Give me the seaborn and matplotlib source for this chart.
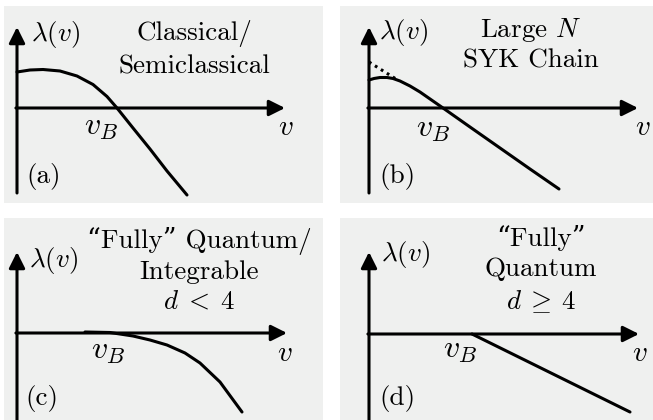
import numpy as np
import matplotlib
matplotlib.use("Agg")
import matplotlib.pyplot as plt
import seaborn as sns

# curve samples (v, lambda(v)); origin = axis crossing
v_a = [0, 0.13, 0.26, 0.43, 0.60, 0.76, 0.90, 1.0, 1.16, 1.33, 1.50, 1.70]
lam_a = [0.36, 0.38, 0.385, 0.37, 0.32, 0.235, 0.115, 0.0, -0.20, -0.41, -0.63, -0.87]

v_b = [0, 0.05, 0.11, 0.18, 0.24, 0.31, 0.41, 0.51, 0.74, 1.01, 1.31, 1.61, 1.90]
lam_b = [0.28, 0.295, 0.305, 0.305, 0.295, 0.27, 0.22, 0.16, 0.0, -0.19, -0.40, -0.61, -0.81]
v_b_dot = [0, 0.27]
lam_b_dot = [0.46, 0.29]

v_c = [0.68, 0.93, 1.16, 1.33, 1.50, 1.68, 1.83, 2.03, 2.25]
lam_c = [0.01, 0.005, -0.03, -0.07, -0.12, -0.20, -0.30, -0.49, -0.79]

v_d = [1.03, 2.61]
lam_d = [0.0, -0.78]

titles = ["Classical/\nSemiclassical", "Large $N$\nSYK Chain",
          "\u201cFully\u201d Quantum/\nIntegrable\n$d\\;<\\;4$",
          "\u201cFully\u201d\nQuantum\n$d\\:\\geq\\:4$"]
tags = ["(a)", "(b)", "(c)", "(d)"]

W, H = 653, 420
FS = 19.5
sns.set_theme(style="white")
plt.rcParams["font.family"] = ["cmr10", "DejaVu Serif"]
plt.rcParams["mathtext.fontset"] = "cm"
plt.rcParams["axes.formatter.use_mathtext"] = True

fig = plt.figure(figsize=(W / 100, H / 100), dpi=100)
fig.patch.set_facecolor("white")

# panel boxes in pixels: left, top, right, bottom, origin x, origin y
panels = [
    (4, 6, 323, 203, 17, 108),
    (340, 6, 653, 203, 369, 108),
    (4, 218, 323, 420, 17, 333),
    (340, 218, 653, 420, 369, 334),
]
vtip = [0.81, 0.81, 0.81, 0.82]
vbot = [-0.85, -0.85, -0.95, -0.95]
htip = [2.68, 2.69, 2.70, 2.70]

axes = []
for i, (l, t, r, b, ox, oy) in enumerate(panels):
    ax = fig.add_axes([l / W, 1 - b / H, (r - l) / W, (b - t) / H])
    ax.set_facecolor("#eff0ef")
    ax.set_xlim((l - ox) / 100, (r - ox) / 100)
    ax.set_ylim((oy - b) / 100, (oy - t) / 100)
    ax.set_xticks([])
    ax.set_yticks([])
    for s in ax.spines.values():
        s.set_visible(False)
    arrow = dict(arrowstyle="-|>", lw=2.2, color="black", mutation_scale=24,
                 shrinkA=0, shrinkB=0)
    ax.annotate("", xy=(0, vtip[i]), xytext=(0, vbot[i]), arrowprops=arrow,
                annotation_clip=False)
    ax.annotate("", xy=(htip[i], 0), xytext=(-0.011, 0), arrowprops=arrow,
                annotation_clip=False)
    axes.append(ax)

sns.lineplot(x=v_a, y=lam_a, ax=axes[0], color="black", lw=2.2, sort=False, estimator=None)
sns.lineplot(x=v_b, y=lam_b, ax=axes[1], color="black", lw=2.2, sort=False, estimator=None)
axes[1].plot(v_b_dot, lam_b_dot, color="black", lw=2.2, ls=(0, (0.9, 1.4)))
sns.lineplot(x=v_c, y=lam_c, ax=axes[2], color="black", lw=2.2, sort=False, estimator=None)
sns.lineplot(x=v_d, y=lam_d, ax=axes[3], color="black", lw=2.2, sort=False, estimator=None)


def px(x, y, s, fs=FS, **kw):
    fig.text(x / W, 1 - y / H, s, fontsize=fs, color="black", **kw)


# lambda(v) labels
for (x, y) in [(31, 35), (379, 33), (29, 260), (381, 255)]:
    px(x, y, r"$\lambda(v)$", ha="left", va="center")
# v_B labels
for (x, y) in [(101, 128), (433, 130), (108, 352), (460, 351)]:
    px(x, y, r"$v_B$", fs=23, ha="center", va="center")
# v labels
for (x, y) in [(286, 128), (643, 128), (285, 354), (640, 354)]:
    px(x, y, r"$v$", fs=21, ha="center", va="center")
# panel tags
for (x, y), tag in zip([(44, 176), (397, 176), (42, 399), (397, 398)], tags):
    px(x, y, tag, ha="center", va="center")
# titles
for (x, y, ls), title in zip([(194, 20, 1.4), (531, 16, 1.23), (199, 227, 1.3), (541, 225, 1.33)], titles):
    px(x, y, title, ha="center", va="top", multialignment="center", linespacing=ls)

fig.savefig("out.png", dpi=100, facecolor="white")
